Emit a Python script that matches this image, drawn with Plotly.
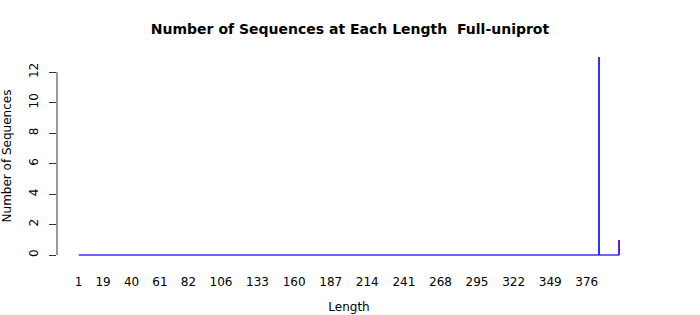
import plotly.graph_objects as go

# Data
lengths = [1, 385, 400]          # observed length span and non-zero lengths
counts = [0, 13, 1]
bar_colors = ["#3333ff", "#3333ff", "#6a1fd6"]
x_tick_vals = [1, 19, 40, 61, 82, 106, 133, 160, 187, 214, 241, 268, 295, 322, 349, 376]
y_tick_vals = [0, 2, 4, 6, 8, 10, 12]

fig = go.Figure()

# baseline at zero across the observed lengths
fig.add_trace(go.Scatter(
    x=[min(lengths), max(lengths)], y=[0, 0], mode="lines",
    line=dict(color="#3333ff", width=1.5), hoverinfo="skip", showlegend=False))

fig.add_trace(go.Bar(
    x=lengths, y=counts, width=1.4, marker=dict(color=bar_colors, line=dict(width=0)),
    showlegend=False))

fig.update_layout(
    width=700, height=315,
    margin=dict(l=57, r=59, t=49, b=52, autoexpand=False),
    paper_bgcolor="white", plot_bgcolor="white",
    font=dict(family="DejaVu Sans", size=12, color="black"),
    title=dict(text="<b>Number of Sequences at Each Length  Full-uniprot</b>",
               x=0.5, xanchor="center", y=0.908, yanchor="middle",
               font=dict(size=14)),
    bargap=0,
    xaxis=dict(range=[-15, 416], tickmode="array", tickvals=x_tick_vals,
               ticktext=[str(v) for v in x_tick_vals], automargin=False,
               showgrid=False, zeroline=False, showline=False, ticks="",
               ticklabelstandoff=10,
               title=dict(text="Length", standoff=14, font=dict(size=12))),
    yaxis=dict(range=[-0.52, 13.52], tickmode="array", tickvals=y_tick_vals,
               showgrid=False, zeroline=False, showline=False, automargin=False,
               ticks="outside", ticklen=7, tickcolor="#333333", tickwidth=1,
               tickangle=-90, ticklabelstandoff=6,
               title=dict(text="Number of Sequences", standoff=16, font=dict(size=12))),
)

# y axis line spanning only the tick range (R style)
fig.add_shape(type="line", xref="paper", yref="y", x0=0, x1=0,
              y0=min(y_tick_vals), y1=max(y_tick_vals),
              line=dict(color="#333333", width=1))

fig.write_html("out.html")
